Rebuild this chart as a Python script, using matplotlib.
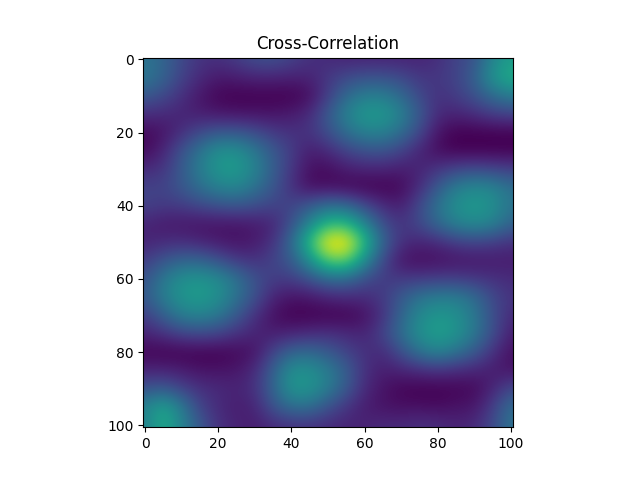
import numpy as np
from matplotlib import pyplot as plt

# values on a coarse grid, every 5 lags
lags = [0, 5, 10, 15, 20, 25, 30, 35, 40, 45, 50, 55, 60, 65, 70, 75, 80, 85, 90, 95, 100]

corr = [
    [.38, .32, .22, .15, .14, .18, .24, .25, .20, .14, .12, .10, .10, .10, .10, .10, .13, .20, .25, .45, .55],
    [.40, .32, .20, .12, .07, .08, .10, .10, .09, .10, .16, .22, .25, .25, .22, .16, .16, .20, .30, .52, .62],
    [.28, .22, .14, .06, .01, .00, .00, .00, .00, .03, .18, .34, .42, .42, .34, .22, .14, .18, .25, .35, .42],
    [.13, .12, .10, .08, .06, .05, .05, .05, .07, .12, .28, .44, .54, .54, .44, .28, .12, .10, .13, .18, .20],
    [.02, .05, .13, .22, .27, .27, .23, .17, .14, .15, .24, .36, .44, .44, .36, .22, .05, .00, .00, .00, .00],
    [.02, .10, .25, .38, .50, .50, .40, .28, .18, .08, .12, .20, .25, .26, .20, .10, .03, .00, .00, .00, .00],
    [.12, .15, .28, .42, .53, .55, .45, .30, .16, .04, .03, .08, .10, .10, .08, .10, .15, .20, .22, .20, .18],
    [.20, .20, .27, .36, .44, .46, .38, .27, .14, .03, .03, .01, .00, .00, .02, .12, .28, .42, .47, .45, .36],
    [.20, .17, .18, .22, .25, .27, .24, .20, .20, .28, .36, .34, .22, .12, .08, .22, .38, .50, .54, .50, .38],
    [.10, .07, .06, .05, .05, .05, .07, .10, .24, .46, .66, .66, .46, .24, .15, .22, .34, .44, .48, .44, .32],
    [.10, .12, .13, .10, .07, .05, .07, .14, .34, .68, 1.0, 1.0, .68, .32, .14, .10, .12, .18, .20, .18, .14],
    [.18, .26, .32, .32, .25, .17, .14, .20, .28, .50, .76, .78, .50, .22, .05, .03, .04, .05, .06, .07, .08],
    [.25, .40, .50, .52, .48, .38, .25, .18, .18, .25, .34, .34, .24, .17, .17, .17, .18, .18, .16, .14, .12],
    [.28, .42, .52, .55, .50, .38, .25, .10, .05, .06, .10, .12, .12, .17, .28, .38, .42, .42, .35, .22, .15],
    [.18, .30, .42, .45, .40, .28, .14, .04, .00, .00, .00, .00, .04, .14, .32, .47, .53, .50, .40, .24, .12],
    [.10, .14, .20, .22, .20, .14, .10, .08, .10, .12, .14, .12, .10, .20, .36, .50, .56, .52, .40, .24, .08],
    [.01, .00, .00, .00, .00, .02, .05, .20, .32, .34, .28, .20, .14, .12, .24, .38, .45, .38, .28, .14, .04],
    [.10, .10, .08, .05, .05, .06, .12, .30, .50, .50, .42, .30, .14, .08, .10, .12, .14, .12, .10, .08, .05],
    [.25, .28, .20, .14, .12, .10, .14, .32, .52, .52, .42, .28, .12, .05, .01, .00, .00, .01, .02, .10, .22],
    [.45, .58, .42, .20, .12, .08, .10, .25, .36, .36, .25, .15, .08, .05, .04, .04, .03, .05, .06, .18, .36],
    [.42, .62, .45, .28, .14, .10, .08, .12, .14, .14, .12, .10, .10, .12, .12, .14, .13, .10, .12, .22, .38],
]

half_step = (lags[1] - lags[0]) / 2

fig, ax = plt.subplots()
ax.imshow(np.array(corr), cmap='viridis', vmin=0, vmax=1, interpolation='bicubic',
          extent=(lags[0] - half_step, lags[-1] + half_step, lags[-1] + half_step, lags[0] - half_step))
ax.set_xlim(-0.5, 100.5)
ax.set_ylim(100.5, -0.5)
ax.set_title('Cross-Correlation')

fig.savefig('out.png', dpi=100)
